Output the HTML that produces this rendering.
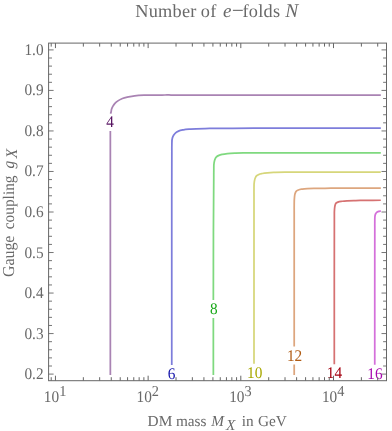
<!DOCTYPE html>
<html><head><meta charset="utf-8"><title>Number of e-folds N</title>
<style>
html,body{margin:0;padding:0;background:#fff;}
body{width:392px;height:431px;overflow:hidden;}
svg{display:block;will-change:transform;}
text{font-family:"Liberation Serif",serif;text-rendering:geometricPrecision;}
.t{fill:#696969;}
.i{font-style:italic;}
</style></head><body>
<svg width="392" height="431" viewBox="0 0 392 431">
<rect width="392" height="431" fill="#fff"/>
<path d="M110.35 374.9L110.35 131.0M110.40 113.60C110.52 113.40 110.66 113.20 110.77 113.00C111.36 111.90 111.15 110.49 111.55 109.30C111.91 108.23 112.39 107.17 112.95 106.19C113.52 105.20 114.17 104.22 114.94 103.38C115.80 102.43 116.85 101.63 117.91 100.90C119.30 99.94 120.84 99.14 122.40 98.50C124.33 97.71 126.45 97.36 128.50 96.90C130.52 96.45 132.55 96.05 134.60 95.77C137.71 95.34 140.86 95.24 144.00 95.15C146.00 95.09 148.00 95.12 150.00 95.11C153.00 95.09 156.00 95.06 159.00 95.04C161.00 95.03 163.00 95.01 165.00 95.00C167.00 94.99 169.00 95.00 171.00 95.00C178.67 95.00 186.33 95.00 194.00 95.00C196.00 95.00 198.00 95.00 200.00 95.00C202.00 95.00 204.00 95.00 206.00 95.00C262.27 95.00 318.53 95.00 374.80 95.00C376.80 95.00 378.80 95.00 380.80 95.00" fill="none" stroke="#a983b3" stroke-width="1.75" stroke-linejoin="round"/>
<path d="M171.75 365.00C171.75 363.00 171.75 361.00 171.75 359.00C171.75 308.00 171.75 257.00 171.75 206.00C171.75 204.00 171.75 202.00 171.75 200.00C171.75 198.00 171.76 196.00 171.76 194.00C171.79 179.83 171.82 165.67 171.85 151.50C171.86 149.50 171.80 147.50 171.87 145.50C171.96 142.86 171.60 140.05 172.50 137.60C172.79 136.80 173.15 135.99 173.60 135.26C174.15 134.36 174.81 133.48 175.60 132.80C176.44 132.07 177.51 131.56 178.53 131.10C180.05 130.42 181.76 130.13 183.40 129.80C185.73 129.34 188.13 129.24 190.50 129.05C195.32 128.65 200.16 128.59 205.00 128.52C207.00 128.49 209.00 128.49 211.00 128.48C225.33 128.40 239.67 128.32 254.00 128.23C256.00 128.22 258.00 128.21 260.00 128.20C262.00 128.19 264.00 128.20 266.00 128.20C302.27 128.17 338.53 128.13 374.80 128.10C376.80 128.10 378.80 128.10 380.80 128.10" fill="none" stroke="#7d7ddb" stroke-width="1.75" stroke-linejoin="round"/>
<path d="M213.35 374.9L213.35 317.9M213.35 300.00C213.35 298.00 213.36 296.00 213.36 294.00C213.38 274.67 213.41 255.33 213.43 236.00C213.44 234.00 213.43 232.00 213.44 230.00C213.45 228.00 213.47 226.00 213.48 224.00C213.58 208.17 213.67 192.33 213.77 176.50C213.78 174.50 213.77 172.50 213.81 170.50C213.87 167.82 213.65 165.08 214.15 162.45C214.35 161.39 214.52 160.28 214.95 159.30C215.33 158.45 215.80 157.54 216.45 156.90C217.13 156.23 218.10 155.80 218.99 155.40C220.04 154.93 221.20 154.67 222.32 154.40C223.99 153.99 225.70 153.78 227.40 153.57C230.11 153.23 232.86 153.15 235.60 153.04C238.73 152.91 241.87 152.92 245.00 152.90C247.00 152.89 249.00 152.90 251.00 152.89C265.33 152.88 279.67 152.87 294.00 152.86C296.00 152.85 298.00 152.85 300.00 152.85C302.00 152.85 304.00 152.85 306.00 152.85C328.93 152.83 351.87 152.82 374.80 152.80C376.80 152.80 378.80 152.80 380.80 152.80" fill="none" stroke="#7fd97f" stroke-width="1.75" stroke-linejoin="round"/>
<path d="M254.00 363.80C254.00 361.80 254.00 359.80 254.00 357.80C254.00 323.87 254.00 289.93 254.00 256.00C254.00 254.00 254.00 252.00 254.00 250.00C254.00 248.00 254.00 246.00 254.00 244.00C254.00 227.83 254.00 211.67 254.00 195.50C254.00 193.50 253.96 191.50 254.00 189.50C254.05 186.78 253.86 184.02 254.37 181.36C254.57 180.31 254.75 179.23 255.15 178.25C255.49 177.43 255.86 176.53 256.45 175.90C257.11 175.21 258.11 174.79 259.01 174.40C260.05 173.95 261.21 173.75 262.34 173.50C264.00 173.14 265.71 172.95 267.40 172.77C270.12 172.48 272.87 172.50 275.60 172.42C278.73 172.32 281.87 172.27 285.00 172.24C287.00 172.22 289.00 172.23 291.00 172.22C302.00 172.19 313.00 172.15 324.00 172.12C326.00 172.11 328.00 172.11 330.00 172.10C332.00 172.09 334.00 172.09 336.00 172.09C348.93 172.06 361.87 172.04 374.80 172.01C376.80 172.01 378.80 172.00 380.80 172.00" fill="none" stroke="#d6d67a" stroke-width="1.75" stroke-linejoin="round"/>
<path d="M294.2 374.9L294.2 364.6M294.20 346.40C294.20 344.40 294.20 342.40 294.20 340.40C294.20 315.60 294.20 290.80 294.20 266.00C294.20 264.00 294.20 262.00 294.20 260.00C294.20 258.00 294.20 256.00 294.20 254.00C294.20 239.83 294.20 225.67 294.20 211.50C294.20 209.50 294.17 207.50 294.20 205.50C294.24 202.77 294.16 200.01 294.48 197.30C294.62 196.13 294.67 194.91 295.02 193.80C295.29 192.97 295.57 192.03 296.12 191.40C296.69 190.76 297.61 190.36 298.41 190.00C299.62 189.46 301.00 189.33 302.32 189.10C303.99 188.81 305.70 188.68 307.40 188.55C310.12 188.34 312.87 188.35 315.60 188.30C318.73 188.24 321.87 188.26 325.00 188.25C327.00 188.24 329.00 188.24 331.00 188.24C335.33 188.23 339.67 188.22 344.00 188.21C346.00 188.21 348.00 188.20 350.00 188.20C352.00 188.20 354.00 188.20 356.00 188.20C362.27 188.20 368.53 188.20 374.80 188.20C376.80 188.20 378.80 188.20 380.80 188.20" fill="none" stroke="#dda67e" stroke-width="1.75" stroke-linejoin="round"/>
<path d="M334.30 364.20C334.30 362.20 334.30 360.20 334.30 358.20C334.30 334.13 334.30 310.07 334.30 286.00C334.30 284.00 334.30 282.00 334.30 280.00C334.30 278.00 334.30 276.00 334.31 274.00C334.33 257.17 334.34 240.33 334.36 223.50C334.37 221.50 334.35 219.50 334.37 217.50C334.39 214.77 334.25 212.02 334.51 209.30C334.63 208.13 334.68 206.93 334.98 205.80C335.19 204.98 335.32 204.02 335.82 203.40C336.31 202.80 337.18 202.43 337.92 202.10C339.26 201.49 340.84 201.46 342.32 201.25C344.00 201.01 345.70 200.91 347.40 200.80C350.13 200.62 352.87 200.61 355.60 200.55C358.73 200.48 361.87 200.44 365.00 200.40C370.27 200.33 375.53 200.30 380.80 200.25" fill="none" stroke="#d67272" stroke-width="1.75" stroke-linejoin="round"/>
<path d="M374.75 364.80C374.75 362.80 374.75 360.80 374.75 358.80C374.75 341.20 374.75 323.60 374.75 306.00C374.75 304.00 374.75 302.00 374.75 300.00C374.75 298.00 374.75 296.00 374.75 294.00C374.77 272.00 374.78 250.00 374.80 228.00C374.80 226.00 374.78 224.00 374.80 222.00C374.81 220.67 374.78 219.33 374.85 218.00C374.89 217.33 374.90 216.66 375.00 216.00C375.07 215.53 375.15 215.05 375.30 214.60C375.43 214.22 375.59 213.84 375.80 213.50C376.00 213.18 376.22 212.85 376.50 212.60C376.76 212.36 377.09 212.18 377.40 212.00C377.84 211.75 378.32 211.57 378.80 211.40C379.45 211.17 380.13 211.07 380.80 210.90" fill="none" stroke="#d470da" stroke-width="1.75" stroke-linejoin="round"/>
<text transform="translate(110.1 126.8) scale(1 1.06)" font-size="15.3" text-anchor="middle" fill="#561260">4</text>
<text transform="translate(171.6 378.5) scale(1 1.06)" font-size="15.3" text-anchor="middle" fill="#1414aa">6</text>
<text transform="translate(213.9 313.5) scale(1 1.06)" font-size="15.3" text-anchor="middle" fill="#18a818">8</text>
<text transform="translate(254.7 378.0) scale(1 1.06)" font-size="15.3" text-anchor="middle" fill="#a8a800">10</text>
<text transform="translate(294.6 360.9) scale(1 1.06)" font-size="15.3" text-anchor="middle" fill="#b05c14">12</text>
<text transform="translate(334.4 378.1) scale(1 1.06)" font-size="15.3" text-anchor="middle" fill="#a40010">14</text>
<text transform="translate(374.9 378.5) scale(1 1.06)" font-size="15.3" text-anchor="middle" fill="#a808b0">16</text>
<rect x="48.6" y="43.1" width="337.90" height="337.60" fill="none" stroke="#666" stroke-width="1"/>
<path d="M48.6 374.10h5.0M386.5 374.10h-5.0M48.6 366.00h3.4M386.5 366.00h-3.4M48.6 357.89h3.4M386.5 357.89h-3.4M48.6 349.78h3.4M386.5 349.78h-3.4M48.6 341.68h3.4M386.5 341.68h-3.4M48.6 333.57h5.0M386.5 333.57h-5.0M48.6 325.47h3.4M386.5 325.47h-3.4M48.6 317.36h3.4M386.5 317.36h-3.4M48.6 309.26h3.4M386.5 309.26h-3.4M48.6 301.15h3.4M386.5 301.15h-3.4M48.6 293.05h5.0M386.5 293.05h-5.0M48.6 284.94h3.4M386.5 284.94h-3.4M48.6 276.84h3.4M386.5 276.84h-3.4M48.6 268.74h3.4M386.5 268.74h-3.4M48.6 260.63h3.4M386.5 260.63h-3.4M48.6 252.53h5.0M386.5 252.53h-5.0M48.6 244.42h3.4M386.5 244.42h-3.4M48.6 236.31h3.4M386.5 236.31h-3.4M48.6 228.21h3.4M386.5 228.21h-3.4M48.6 220.10h3.4M386.5 220.10h-3.4M48.6 212.00h5.0M386.5 212.00h-5.0M48.6 203.90h3.4M386.5 203.90h-3.4M48.6 195.79h3.4M386.5 195.79h-3.4M48.6 187.68h3.4M386.5 187.68h-3.4M48.6 179.58h3.4M386.5 179.58h-3.4M48.6 171.47h5.0M386.5 171.47h-5.0M48.6 163.37h3.4M386.5 163.37h-3.4M48.6 155.27h3.4M386.5 155.27h-3.4M48.6 147.16h3.4M386.5 147.16h-3.4M48.6 139.05h3.4M386.5 139.05h-3.4M48.6 130.95h5.0M386.5 130.95h-5.0M48.6 122.84h3.4M386.5 122.84h-3.4M48.6 114.74h3.4M386.5 114.74h-3.4M48.6 106.63h3.4M386.5 106.63h-3.4M48.6 98.53h3.4M386.5 98.53h-3.4M48.6 90.42h5.0M386.5 90.42h-5.0M48.6 82.32h3.4M386.5 82.32h-3.4M48.6 74.22h3.4M386.5 74.22h-3.4M48.6 66.11h3.4M386.5 66.11h-3.4M48.6 58.01h3.4M386.5 58.01h-3.4M48.6 49.90h5.0M386.5 49.90h-5.0" fill="none" stroke="#666" stroke-width="0.9"/>
<path d="M51.21 43.1v3.5M51.21 380.7v-3.5M55.45 43.1v5.0M55.45 380.7v-5.0M83.35 43.1v3.5M83.35 380.7v-3.5M99.67 43.1v3.5M99.67 380.7v-3.5M111.25 43.1v3.5M111.25 380.7v-3.5M120.23 43.1v3.5M120.23 380.7v-3.5M127.57 43.1v3.5M127.57 380.7v-3.5M133.77 43.1v3.5M133.77 380.7v-3.5M139.15 43.1v3.5M139.15 380.7v-3.5M143.89 43.1v3.5M143.89 380.7v-3.5M148.13 43.1v5.0M148.13 380.7v-5.0M176.03 43.1v3.5M176.03 380.7v-3.5M192.35 43.1v3.5M192.35 380.7v-3.5M203.93 43.1v3.5M203.93 380.7v-3.5M212.91 43.1v3.5M212.91 380.7v-3.5M220.25 43.1v3.5M220.25 380.7v-3.5M226.45 43.1v3.5M226.45 380.7v-3.5M231.83 43.1v3.5M231.83 380.7v-3.5M236.57 43.1v3.5M236.57 380.7v-3.5M240.81 43.1v5.0M240.81 380.7v-5.0M268.71 43.1v3.5M268.71 380.7v-3.5M285.03 43.1v3.5M285.03 380.7v-3.5M296.61 43.1v3.5M296.61 380.7v-3.5M305.59 43.1v3.5M305.59 380.7v-3.5M312.93 43.1v3.5M312.93 380.7v-3.5M319.13 43.1v3.5M319.13 380.7v-3.5M324.51 43.1v3.5M324.51 380.7v-3.5M329.25 43.1v3.5M329.25 380.7v-3.5M333.49 43.1v5.0M333.49 380.7v-5.0M361.39 43.1v3.5M361.39 380.7v-3.5M377.71 43.1v3.5M377.71 380.7v-3.5" fill="none" stroke="#666" stroke-width="1"/>
<text class="t" transform="translate(43.6 379.10) scale(1 1.06)" font-size="15.3" text-anchor="end">0.2</text>
<text class="t" transform="translate(43.6 338.57) scale(1 1.06)" font-size="15.3" text-anchor="end">0.3</text>
<text class="t" transform="translate(43.6 298.05) scale(1 1.06)" font-size="15.3" text-anchor="end">0.4</text>
<text class="t" transform="translate(43.6 257.52) scale(1 1.06)" font-size="15.3" text-anchor="end">0.5</text>
<text class="t" transform="translate(43.6 217.00) scale(1 1.06)" font-size="15.3" text-anchor="end">0.6</text>
<text class="t" transform="translate(43.6 176.47) scale(1 1.06)" font-size="15.3" text-anchor="end">0.7</text>
<text class="t" transform="translate(43.6 135.95) scale(1 1.06)" font-size="15.3" text-anchor="end">0.8</text>
<text class="t" transform="translate(43.6 95.42) scale(1 1.06)" font-size="15.3" text-anchor="end">0.9</text>
<text class="t" transform="translate(43.6 54.90) scale(1 1.06)" font-size="15.3" text-anchor="end">1.0</text>
<text class="t" transform="translate(43.85 401.8) scale(1 1.06)" font-size="15.3">10<tspan font-size="14.3" dy="-5.1">1</tspan></text>
<text class="t" transform="translate(136.53 401.8) scale(1 1.06)" font-size="15.3">10<tspan font-size="14.3" dy="-5.1">2</tspan></text>
<text class="t" transform="translate(229.21 401.8) scale(1 1.06)" font-size="15.3">10<tspan font-size="14.3" dy="-5.1">3</tspan></text>
<text class="t" transform="translate(321.89 401.8) scale(1 1.06)" font-size="15.3">10<tspan font-size="14.3" dy="-5.1">4</tspan></text>
<text class="t" y="16.5" font-size="18.3" letter-spacing="0.25"><tspan x="135.2">Number</tspan><tspan x="200.8">of</tspan><tspan class="i" x="223.1" font-size="19">e</tspan><tspan x="242.5">folds</tspan><tspan class="i" x="285.2" font-size="19.5">N</tspan></text>
<rect x="232.9" y="9.8" width="9.9" height="1.1" fill="#6a6a6a"/>
<text class="t" y="426.1" font-size="15.3"><tspan x="147.6">DM</tspan><tspan x="175.9">mass</tspan><tspan class="i" x="211.15">M</tspan><tspan class="i" x="226.0" dy="3.7">X</tspan><tspan x="241.85" dy="-3.7">in</tspan><tspan x="257.9">GeV</tspan></text>
<g transform="translate(13.9 0) rotate(-90) scale(1 1.05)"><text class="t" y="0" font-size="15.4"><tspan x="-277.1" font-size="15.9">Gauge</tspan><tspan x="-229.3">coupling</tspan><tspan class="i" x="-168.5">g</tspan><tspan class="i" x="-158.2" dy="3.3">X</tspan></text></g>
</svg></body></html>
